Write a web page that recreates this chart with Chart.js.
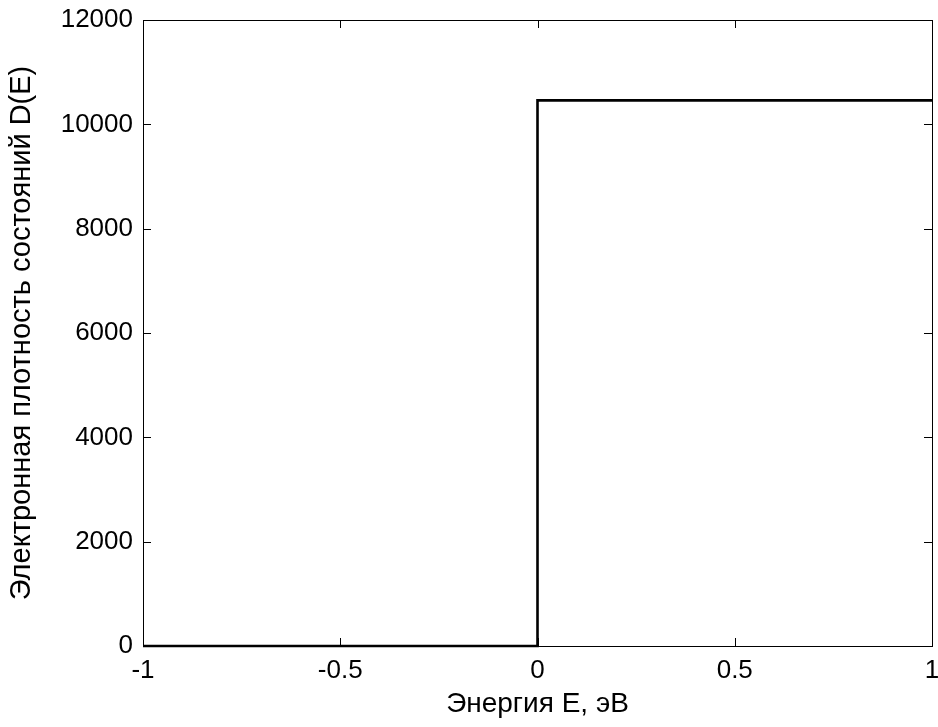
<!DOCTYPE html>
<html>
<head>
<meta charset="utf-8">
<script src="https://cdn.jsdelivr.net/npm/chart.js@4"></script>
<style>
    html, body { margin: 0; padding: 0; background: #fff; }
    #wrap { width: 938px; height: 727px; }
</style>
</head>
<body>
<div id="wrap"><canvas id="dosChart" width="938" height="727"></canvas></div>
<script>
// Density of states step function
const energyValues = [-1, 0, 0, 1];
const dosValues = [0, 0, 10460, 10460];
const xTicks = [-1, -0.5, 0, 0.5, 1];
const yTicks = [0, 2000, 4000, 6000, 8000, 10000, 12000];

const FONT = 'Liberation Sans, Arial, sans-serif';

// MATLAB-like box with inward ticks on all sides
const boxTicks = {
    id: 'boxTicks',
    afterDraw(chart) {
        const { ctx, chartArea: a, scales } = chart;
        const len = 8;
        ctx.save();
        ctx.strokeStyle = '#000';
        ctx.lineWidth = 1;
        ctx.beginPath();
        xTicks.forEach(v => {
            const x = Math.round(scales.x.getPixelForValue(v)) + 0.5;
            ctx.moveTo(x, a.bottom); ctx.lineTo(x, a.bottom - len);
            ctx.moveTo(x, a.top); ctx.lineTo(x, a.top + len);
        });
        yTicks.forEach(v => {
            const y = Math.round(scales.y.getPixelForValue(v)) + 0.5;
            ctx.moveTo(a.left, y); ctx.lineTo(a.left + len, y);
            ctx.moveTo(a.right, y); ctx.lineTo(a.right - len, y);
        });
        ctx.stroke();
        ctx.strokeRect(Math.round(a.left) + 0.5, Math.round(a.top) + 0.5,
            Math.round(a.right - a.left), Math.round(a.bottom - a.top));
        ctx.restore();
    }
};

new Chart(document.getElementById('dosChart'), {
    type: 'scatter',
    data: {
        datasets: [{
            data: energyValues.map((e, i) => ({ x: e, y: dosValues[i] })),
            showLine: true,
            borderColor: '#000',
            borderWidth: 2.6,
            pointRadius: 0,
            tension: 0,
            clip: false
        }]
    },
    options: {
        responsive: false,
        animation: false,
        layout: { padding: { top: 20, right: 6, left: 0, bottom: 0 } },
        plugins: { legend: { display: false }, tooltip: { enabled: false } },
        scales: {
            x: {
                type: 'linear',
                min: -1, max: 1,
                afterBuildTicks: s => { s.ticks = xTicks.map(v => ({ value: v })); },
                afterFit: s => {
                    s.height = 81;
                    s.paddingLeft = 0;
                    s.paddingRight = 0;
                },
                grid: { display: false, drawTicks: false },
                border: { display: false },
                ticks: {
                    color: '#000',
                    padding: 9,
                    maxRotation: 0,
                    font: { family: FONT, size: 26 },
                    callback: v => String(v)
                },
                title: {
                    display: true,
                    text: 'Энергия Е, эВ',
                    color: '#000',
                    padding: { top: 4, bottom: 6 },
                    font: { family: FONT, size: 28 }
                }
            },
            y: {
                type: 'linear',
                min: 0, max: 12000,
                afterBuildTicks: s => { s.ticks = yTicks.map(v => ({ value: v })); },
                afterFit: s => {
                    s.width = 143;
                    s.paddingTop = 0;
                    s.paddingBottom = 0;
                },
                grid: { display: false, drawTicks: false },
                border: { display: false },
                ticks: {
                    color: '#000',
                    padding: 10,
                    font: { family: FONT, size: 26 },
                    callback: v => String(v)
                },
                title: {
                    display: true,
                    text: 'Электронная плотность состояний D(E)',
                    color: '#000',
                    padding: { top: 5, bottom: 4 },
                    font: { family: FONT, size: 29 }
                }
            }
        }
    },
    plugins: [boxTicks]
});
</script>
</body>
</html>
